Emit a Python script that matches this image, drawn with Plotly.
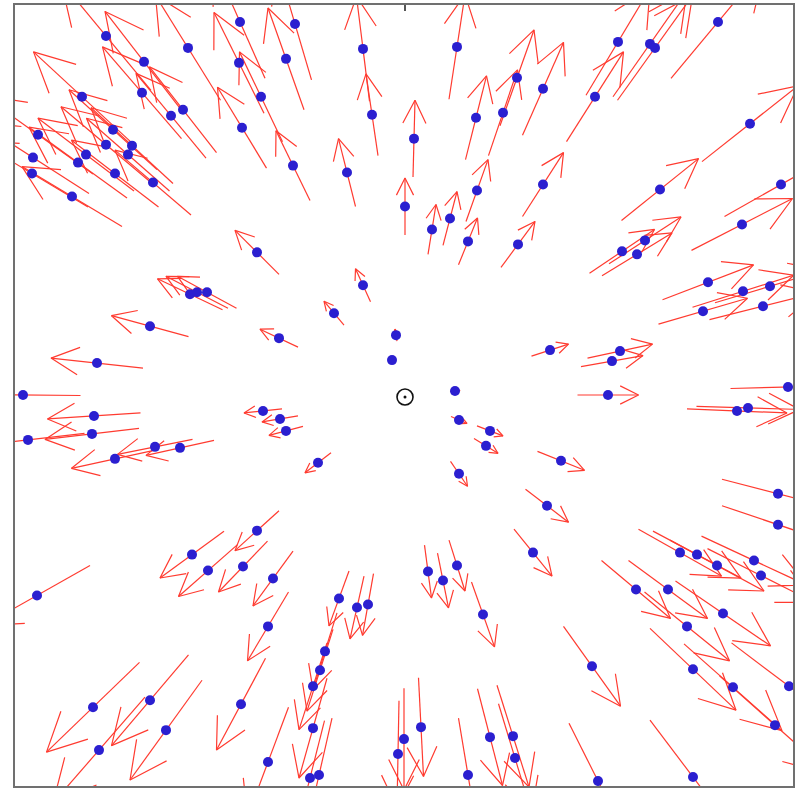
import plotly.graph_objects as go

# Feature points (image pixel coordinates, y grows downward)
X = [106, 188, 144, 240, 239, 261, 242, 142, 171, 183, 82, 38, 113, 106, 132, 128, 86, 78, 33, 32, 115, 153, 72, 257,
     295, 363, 457, 286, 372, 414, 476, 503, 517, 543, 293, 347, 405, 477, 450, 432, 468, 518, 543,
     618, 650, 655, 718, 595, 750, 660, 781, 742, 622, 637, 645,
     190, 197, 207, 150, 97, 23, 94, 92, 28, 155, 180, 115, 263, 280, 286,
     363, 334, 279, 396, 392, 455, 459, 490, 486, 459, 318,
     708, 743, 770, 703, 763, 550, 620, 612, 608, 788, 737, 748, 561, 547, 778, 778,
     37, 192, 257, 208, 243, 273, 268, 241, 93, 150, 166, 99, 268,
     339, 357, 368, 325, 320, 313, 313, 310, 319, 428, 443, 457, 483, 533, 404, 398, 421, 468, 490, 513, 515,
     680, 697, 717, 754, 761, 636, 668, 723, 687, 592, 693, 733, 789, 775, 598, 693]
Y = [36, 48, 62, 22, 63, 97, 128, 93, 116, 110, 97, 135, 130, 145, 146, 155, 155, 163, 158, 174, 174, 183, 197, 253,
     24, 49, 47, 59, 115, 139, 118, 113, 78, 89, 166, 173, 207, 191, 219, 230, 242, 245, 185,
     42, 44, 48, 22, 97, 124, 190, 185, 225, 252, 255, 241,
     295, 293, 293, 327, 364, 396, 417, 435, 441, 448, 449, 460, 412, 420, 432,
     286, 314, 339, 336, 361, 392, 421, 432, 447, 475, 464,
     283, 292, 287, 312, 307, 351, 352, 362, 396, 388, 412, 409, 462, 507, 495, 526,
     597, 556, 532, 572, 568, 580, 628, 706, 709, 702, 732, 752, 764,
     600, 609, 606, 653, 672, 688, 730, 780, 777, 573, 582, 567, 616, 554, 741, 756, 729, 777, 739, 738, 760,
     554, 556, 567, 562, 577, 591, 591, 615, 628, 668, 671, 689, 688, 727, 783, 779]

# Flow vectors at each point (pixels)
U = [-90, -65, -78, -50, -50, -43, -49, -79, -70, -67, -97, -110, -88, -90, -82, -83, -96, -98, -112, -112, -87, -76, -100, -44,
     -33, -13, 16, -36, -12, 2, 21, 29, 34, 41, -34, -17, 0, 22, 14, 8, 19, 34, 41,
     64, 74, 75, 94, 57, 96, 77, 113, 101, 65, 70, 72,
     -65, -62, -59, -77, -92, -115, -93, -94, -113, -75, -68, -87, -38, -36, -34,
     -15, -20, -38, -2, -1, 10, 16, 26, 24, 17, -26,
     91, 101, 110, 89, 107, 37, 65, 62, 61, 115, 100, 103, 47, 43, 112, 112,
     -106, -64, -44, -59, -49, -40, -41, -49, -93, -77, -72, -92, -41,
     -20, -14, -11, -24, -26, -28, -28, -29, -26, 7, 11, 16, 23, 38, 0, -2, 5, 19, 25, 32, 33,
     83, 88, 94, 105, 107, 69, 79, 95, 85, 57, 86, 98, 115, 111, 58, 86]
V = [-109, -105, -101, -113, -101, -90, -81, -92, -85, -86, -90, -79, -80, -76, -76, -73, -73, -71, -72, -67, -67, -65, -60, -44,
     -112, -105, -105, -102, -82, -77, -84, -86, -96, -93, -70, -68, -57, -62, -54, -50, -47, -46, -64,
     -107, -106, -105, -113, -90, -76, -62, -64, -52, -44, -43, -47,
     -31, -32, -32, -21, -10, -1, 6, 11, 13, 15, 15, 19, 4, 6, 9,
     -33, -24, -18, -12, -5, -1, 7, 10, 15, 25, 20,
     -35, -32, -33, -26, -27, -12, -14, -11, 0, -3, 4, 3, 19, 33, 29, 38,
     60, 47, 40, 52, 51, 55, 69, 92, 90, 91, 100, 106, 110,
     55, 63, 62, 77, 82, 87, 100, 115, 114, 53, 55, 51, 65, 47, 102, 107, 99, 114, 97, 102, 109,
     47, 47, 51, 49, 54, 58, 58, 65, 69, 80, 82, 87, 87, 99, 116, 114]

FOE_X, FOE_Y = 405, 398

HEAD = 0.30   # arrowhead length relative to the arrow
SPREAD = 0.50  # arrowhead half-width relative to head length

# Arrows are centred on their feature point: shaft plus two barbs per arrow
ax, ay = [], []
for x, y, u, v in zip(X, Y, U, V):
    x0, y0 = x - u / 2, y - v / 2
    x1, y1 = x + u / 2, y + v / 2
    ax += [x0, x1, None]
    ay += [y0, y1, None]
    bx, by = HEAD * u, HEAD * v
    px, py = -by * SPREAD, bx * SPREAD
    ax += [x1 - bx + px, x1, x1 - bx - px, None]
    ay += [y1 - by + py, y1, y1 - by - py, None]

fig = go.Figure()
fig.add_trace(go.Scatter(x=ax, y=ay, mode="lines",
                         line=dict(color="#ff3b30", width=1.2),
                         hoverinfo="skip", showlegend=False))
fig.add_trace(go.Scatter(x=X, y=Y, mode="markers",
                         marker=dict(color="#2b1fd0", size=10, line=dict(width=0)),
                         showlegend=False))
fig.add_trace(go.Scatter(x=[FOE_X], y=[FOE_Y], mode="markers",
                         marker=dict(symbol="circle-open", color="#111111", size=16,
                                     line=dict(width=1.6)),
                         showlegend=False))
fig.add_trace(go.Scatter(x=[FOE_X], y=[FOE_Y], mode="markers",
                         marker=dict(color="#111111", size=3),
                         showlegend=False))

fig.update_layout(
    width=805, height=791,
    margin=dict(l=15, r=12, t=5, b=3),
    paper_bgcolor="white", plot_bgcolor="white",
    xaxis=dict(range=[15, 793], side="top", showgrid=False, zeroline=False,
               showline=True, mirror=True, linecolor="#707070", linewidth=2,
               ticks="inside", tickvals=[405], ticklen=6, tickwidth=2,
               tickcolor="#555555", showticklabels=False),
    yaxis=dict(range=[788, 5], showgrid=False, zeroline=False,
               showline=True, mirror=True, linecolor="#707070", linewidth=2,
               showticklabels=False, ticks=""),
)

fig.write_html("out.html")
